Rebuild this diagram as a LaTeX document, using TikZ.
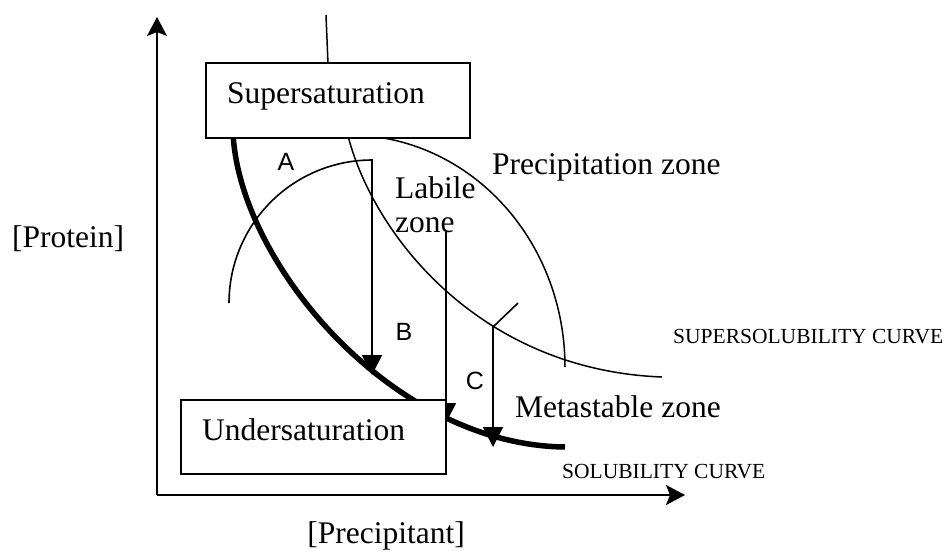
\documentclass[tikz,border=0pt]{standalone}
\usepackage{fontspec}
\setmainfont{Liberation Serif}
\newfontfamily\sansf{Liberation Sans}
\usetikzlibrary{arrows.meta}
\begin{document}
\begin{tikzpicture}[x=1pt,y=-1pt,
  big/.style={font=\fontsize{31.5}{36}\selectfont, inner sep=0pt},
  small/.style={font=\fontsize{21.5}{24}\selectfont, inner sep=0pt},
  letter/.style={font=\sansf\fontsize{25}{28}\selectfont, inner sep=0pt},
  zonebox/.style={draw, line width=1.6pt, fill=white, inner sep=0pt, anchor=north west},
  axisline/.style={line width=1.8pt, -{Stealth[length=19pt,width=20pt,inset=4pt]}},
  thinline/.style={line width=1.5pt},
  thickcurve/.style={line width=5.5pt},
  drop/.style={line width=1.6pt, -{Triangle[length=20pt,width=20pt]}},
]
\useasboundingbox (0,0) rectangle (952,557);

% axes
\coordinate (O) at (157,495);
\coordinate (ytop) at (157,17);
\coordinate (xend) at (685,495);
\draw[axisline] (O) -- (ytop);
\draw[axisline] (O) -- (xend);

% solubility curve (thick)
\coordinate (k0) at (233,132);
\coordinate (k1) at (565,447);
\draw[thickcurve] (k0) .. controls (238,260) and (390,445) .. (k1);

% supersolubility curve
\coordinate (s0) at (326,15);
\coordinate (s1) at (328,64);
\draw[thinline] (s0) -- (s1);
\coordinate (s2) at (347,132);
\coordinate (s3) at (662,377);
\draw[thinline] (s2) .. controls (372,235) and (480,370) .. (s3);

% precipitation zone arc
\draw[thinline] plot[domain=90:0, samples=60] ({349+216*cos(\x)},{367-232*sin(\x)});

% path A -> B
\coordinate (bend) at (372,375);
\draw[drop] plot[domain=180:90, samples=50] ({372+143*cos(\x)},{303-143*sin(\x)}) -- (bend);

% arrow from labile zone
\coordinate (zs) at (446,232);
\coordinate (ze) at (446,423);
\draw[drop] (zs) -- (ze);

% arrow C
\coordinate (ct) at (518,303);
\coordinate (cs) at (493,327);
\coordinate (ce) at (493,447);
\draw[drop] (ct) -- (cs) -- (ce);

% boxes
\node[zonebox, minimum width=264pt, minimum height=75pt] (sup) at (205,62) {};
\node[zonebox, minimum width=265pt, minimum height=74pt] (und) at (180,399) {};

% texts
\node[big, anchor=base west] (suptxt) at (227,103) {Supersaturation};
\node[big, anchor=base west] (undtxt) at (202,440) {Undersaturation};
\node[big, anchor=base west] (prec) at (492,174) {Precipitation zone};
\node[big, anchor=base west] (lab1) at (395,198) {Labile};
\node[big, anchor=base west] (lab2) at (395,232) {zone};
\node[big, anchor=base west] (meta) at (515,417) {Metastable zone};
\node[big, anchor=base west] (prot) at (12,247) {[Protein]};
\node[big, anchor=base east] (precip) at (465,543) {[Precipitant]};
\node[small, anchor=base west] (ssc) at (673,343) {SUPERSOLUBILITY CURVE};
\node[small, anchor=base west] (sc) at (562,478) {SOLUBILITY CURVE};
\node[letter] (la) at (286,162) {A};
\node[letter] (lb) at (404,332) {B};
\node[letter] (lc) at (475,381) {C};
\end{tikzpicture}
\end{document}
